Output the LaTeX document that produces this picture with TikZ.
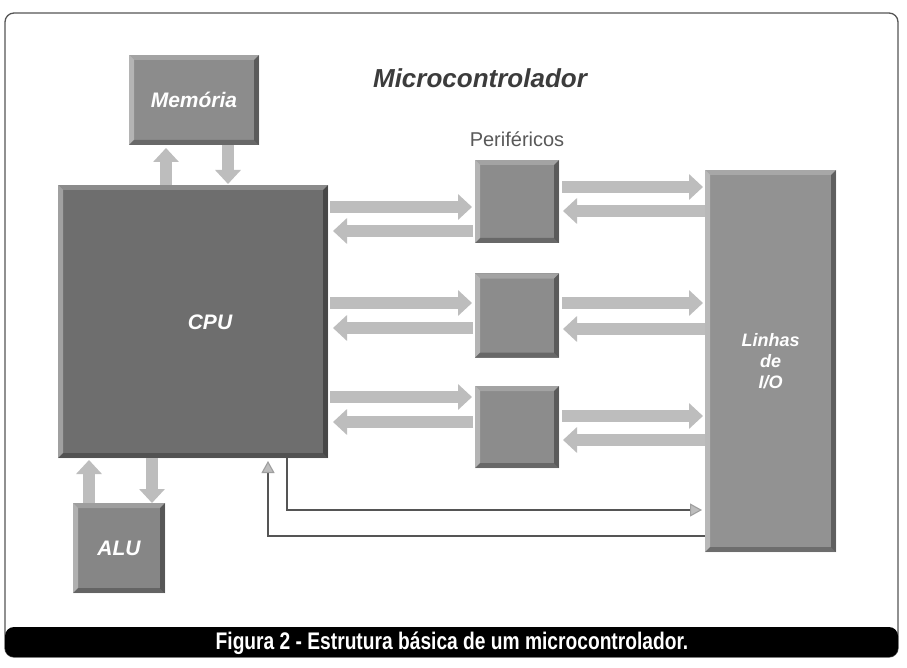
\documentclass[tikz,border=0pt]{standalone}
\usepackage{fontspec}
\setmainfont{Liberation Sans}
\usetikzlibrary{arrows.meta,calc}
\definecolor{arrowgray}{HTML}{BDBDBD}
\definecolor{cpugray}{HTML}{6E6E6E}
\definecolor{boxgray}{HTML}{8C8C8C}
\definecolor{iogray}{HTML}{929292}
\definecolor{framegray}{HTML}{555555}
\definecolor{titlegray}{HTML}{3C3C3C}
\begin{document}
\begin{tikzpicture}[x=1pt,y=-1pt,
  bevelbox/.style={inner sep=0pt,outer sep=0pt,fill=#1,
    path picture={
      \fill[white,opacity=0.35] (path picture bounding box.south west) -- (path picture bounding box.north west)
        -- ([xshift=5pt,yshift=-5pt]path picture bounding box.north west) -- ([xshift=5pt,yshift=5pt]path picture bounding box.south west) -- cycle;
      \fill[white,opacity=0.2] (path picture bounding box.north west) -- (path picture bounding box.north east)
        -- ([xshift=-5pt,yshift=-5pt]path picture bounding box.north east) -- ([xshift=5pt,yshift=-5pt]path picture bounding box.north west) -- cycle;
      \fill[black,opacity=0.35] (path picture bounding box.north east) -- (path picture bounding box.south east)
        -- ([xshift=-5pt,yshift=5pt]path picture bounding box.south east) -- ([xshift=-5pt,yshift=-5pt]path picture bounding box.north east) -- cycle;
      \fill[black,opacity=0.25] (path picture bounding box.south west) -- (path picture bounding box.south east)
        -- ([xshift=-5pt,yshift=5pt]path picture bounding box.south east) -- ([xshift=5pt,yshift=5pt]path picture bounding box.south west) -- cycle;
    }},
  boxlabel/.style={text=white,font=\bfseries\itshape\fontsize{21}{24}\selectfont},
  blk/.style={draw=arrowgray,line width=12pt,-{Triangle[width=25pt,length=14pt]}},
  thinarr/.style={draw=framegray,line width=1.1pt,-{Triangle[width=13pt,length=12pt,fill=arrowgray,color=gray!75]}}]
\useasboundingbox (0,0) rectangle (907,668);
\fill[white] (0,0) rectangle (907,668);
% frame and caption bar
\draw[framegray,line width=1.3pt,rounded corners=9pt] (5,13) rectangle (898,657);
\fill[black,rounded corners=9pt] (5,627) rectangle (898,657);
\node[text=white,inner sep=0pt] (caption) at (452,643)
  {\scalebox{0.8}[1]{\bfseries\fontsize{24}{24}\selectfont Figura 2 - Estrutura básica de um microcontrolador.}};
% titles
\node[text=titlegray,font=\bfseries\itshape\fontsize{26}{30}\selectfont] (title) at (480,78) {Microcontrolador};
\node[text=titlegray!85,font=\fontsize{20}{24}\selectfont] (perlabel) at (517,139) {Periféricos};
% boxes
\node[bevelbox=boxgray,minimum width=130pt,minimum height=90pt,boxlabel] (mem) at (194,100) {Memória};
\node[bevelbox=cpugray,minimum width=270pt,minimum height=273pt] (cpu) at (193,321.5) {};
\node[boxlabel] (cputxt) at (210,322) {CPU};
\node[bevelbox=boxgray!105,minimum width=92pt,minimum height=90pt,boxlabel] (alu) at (119,548) {ALU};
\node[bevelbox=boxgray,minimum width=84pt,minimum height=83pt] (p1) at (517,201.5) {};
\node[bevelbox=boxgray,minimum width=84pt,minimum height=84pt] (p2) at (517,315.5) {};
\node[bevelbox=boxgray,minimum width=84pt,minimum height=82pt] (p3) at (517,427) {};
\node[bevelbox=iogray,minimum width=131pt,minimum height=382pt,boxlabel,font=\bfseries\itshape\fontsize{18}{21}\selectfont,align=center] (io) at (770.5,361) {Linhas\\de\\I/O};
% level coordinates
\coordinate (mu) at (166,0);
\coordinate (md) at (228,0);
\coordinate (au) at (89,0);
\coordinate (ad) at (152,0);
\coordinate (r1a) at (0,207);
\coordinate (r1b) at (0,231);
\coordinate (r2a) at (0,303);
\coordinate (r2b) at (0,328);
\coordinate (r3a) at (0,397);
\coordinate (r3b) at (0,422);
\coordinate (s1a) at (0,187);
\coordinate (s1b) at (0,211);
\coordinate (s2a) at (0,303);
\coordinate (s2b) at (0,329);
\coordinate (s3a) at (0,416);
\coordinate (s3b) at (0,440);
\coordinate (ta) at (287,510);
\coordinate (tb) at (268,536);
% memory arrows
\draw[blk,shorten >=3pt] (cpu.north -| mu) -- (mem.south -| mu);
\draw[blk,shorten >=1pt] (mem.south -| md) -- (cpu.north -| md);
% ALU arrows
\draw[blk,shorten >=2pt] (alu.north -| au) -- (cpu.south -| au);
\draw[blk] (cpu.south -| ad) -- (alu.north -| ad);
% CPU <-> peripherals
\draw[blk,shorten <=2pt,shorten >=3pt] (cpu.east |- r1a) -- (p1.west |- r1a);
\draw[blk,shorten <=2pt,shorten >=5pt] (p1.west |- r1b) -- (cpu.east |- r1b);
\draw[blk,shorten <=2pt,shorten >=3pt] (cpu.east |- r2a) -- (p2.west |- r2a);
\draw[blk,shorten <=2pt,shorten >=5pt] (p2.west |- r2b) -- (cpu.east |- r2b);
\draw[blk,shorten <=2pt,shorten >=3pt] (cpu.east |- r3a) -- (p3.west |- r3a);
\draw[blk,shorten <=2pt,shorten >=5pt] (p3.west |- r3b) -- (cpu.east |- r3b);
% peripherals <-> I/O
\draw[blk,shorten <=3pt,shorten >=2pt] (p1.east |- s1a) -- (io.west |- s1a);
\draw[blk,shorten <=0pt,shorten >=4pt] (io.west |- s1b) -- (p1.east |- s1b);
\draw[blk,shorten <=3pt,shorten >=2pt] (p2.east |- s2a) -- (io.west |- s2a);
\draw[blk,shorten <=0pt,shorten >=4pt] (io.west |- s2b) -- (p2.east |- s2b);
\draw[blk,shorten <=3pt,shorten >=2pt] (p3.east |- s3a) -- (io.west |- s3a);
\draw[blk,shorten <=0pt,shorten >=4pt] (io.west |- s3b) -- (p3.east |- s3b);
% thin arrows
\draw[thinarr,shorten >=3pt] (cpu.south -| ta) -- (ta) -- (io.west |- ta);
\draw[thinarr,shorten >=3pt] (io.west |- tb) -- (tb) -- (cpu.south -| tb);
\end{tikzpicture}
\end{document}
